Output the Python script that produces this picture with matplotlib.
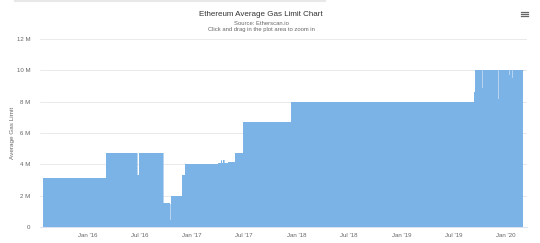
import matplotlib
matplotlib.use("Agg")
import matplotlib.pyplot as plt
import pandas as pd
import numpy as np

# ---- data (step points: date, average gas limit) ----
gas_dates = [
    "2015-07-30", "2016-03-07", "2016-06-24", "2016-06-28", "2016-09-20",
    "2016-09-22", "2016-10-16", "2016-10-18", "2016-11-27", "2016-12-06",
    "2017-04-02", "2017-04-10", "2017-04-13", "2017-04-19", "2017-04-22",
    "2017-05-05", "2017-05-29", "2017-06-27", "2017-12-10", "2019-09-10",
    "2019-09-15", "2019-10-01", "2019-10-03", "2019-10-10", "2019-10-12",
    "2019-12-04", "2019-12-06", "2020-01-12", "2020-01-14", "2020-01-23",
    "2020-01-25", "2020-02-29",
]
gas_values = [
    3.14e6, 4.71e6, 3.3e6, 4.71e6, 3.2e6,
    1.5e6, 0.45e6, 2.0e6, 3.3e6, 4.0e6,
    4.1e6, 4.3e6, 4.1e6, 4.25e6, 4.1e6,
    4.15e6, 4.7e6, 6.7e6, 8.0e6, 8.6e6,
    10.0e6, 9.7e6, 10.0e6, 8.9e6, 10.0e6,
    8.2e6, 10.0e6, 9.7e6, 10.0e6, 9.5e6,
    10.0e6, 10.0e6,
]
y_ticks = [0, 2e6, 4e6, 6e6, 8e6, 10e6, 12e6]
y_tick_labels = ["0", "2 M", "4 M", "6 M", "8 M", "10 M", "12 M"]
x_ticks = ["2016-01-01", "2016-07-01", "2017-01-01", "2017-07-01", "2018-01-01",
           "2018-07-01", "2019-01-01", "2019-07-01", "2020-01-01"]
x_tick_labels = ["Jan '16", "Jul '16", "Jan '17", "Jul '17", "Jan '18",
                 "Jul '18", "Jan '19", "Jul '19", "Jan '20"]

plt.rcParams['font.family'] = ['Liberation Sans', 'DejaVu Sans']

W, H = 540, 243
fig = plt.figure(figsize=(W / 100, H / 100), dpi=100)
fig.patch.set_facecolor("white")

left_px, right_px, top_px, bot_px = 40, 527, 39, 227
ax = fig.add_axes([left_px / W, 1 - bot_px / H, (right_px - left_px) / W, (bot_px - top_px) / H])

d = pd.to_datetime(gas_dates)
v = np.array(gas_values)
ax.fill_between(d, 0, v, step="post", color="#7cb3e6", linewidth=0)
ax.step(d, v, where="post", color="#7cb3e6", linewidth=0.4)

ax.set_ylim(0, 12e6)
ax.set_xlim(pd.Timestamp("2015-07-20"), pd.Timestamp("2020-03-14"))
ax.set_yticks(y_ticks)
ax.set_yticklabels(y_tick_labels)
ax.set_xticks(pd.to_datetime(x_ticks))
ax.set_xticklabels(x_tick_labels)
ax.tick_params(axis="both", length=0, labelsize=4.4, colors="#666666")
ax.tick_params(axis="y", pad=7)
ax.tick_params(axis="x", pad=4)
ax.grid(axis="y", color="#e6e6e6", linewidth=0.6)
ax.set_axisbelow(True)
for s in ["top", "right", "left"]:
    ax.spines[s].set_visible(False)
ax.spines["bottom"].set_color("#ccd6eb")
ax.spines["bottom"].set_linewidth(0.5)
ax.set_ylabel("Average Gas Limit", fontsize=4.6, color="#666666", labelpad=1)

fig.text(261 / W, 1 - 14 / H, "Ethereum Average Gas Limit Chart", ha="center", va="center",
         fontsize=5.8, color="#333333")
fig.text(261 / W, 1 - 23.5 / H, "Source: Etherscan.io", ha="center", va="center",
         fontsize=4.2, color="#666666")
fig.text(261 / W, 1 - 30 / H, "Click and drag in the plot area to zoom in", ha="center", va="center",
         fontsize=4.2, color="#666666")

# hamburger menu icon
for yy in (12.5, 14.5, 16.5):
    fig.add_artist(plt.Line2D([521 / W, 528 / W], [1 - yy / H, 1 - yy / H], color="#666666",
                              linewidth=0.9, transform=fig.transFigure))

# faint top strip
fig.add_artist(plt.Line2D([15 / W, 325 / W], [1 - 1 / H, 1 - 1 / H], color="#e8e8e8",
                          linewidth=1.5, transform=fig.transFigure))

fig.savefig("out.png", dpi=100, facecolor="white")
